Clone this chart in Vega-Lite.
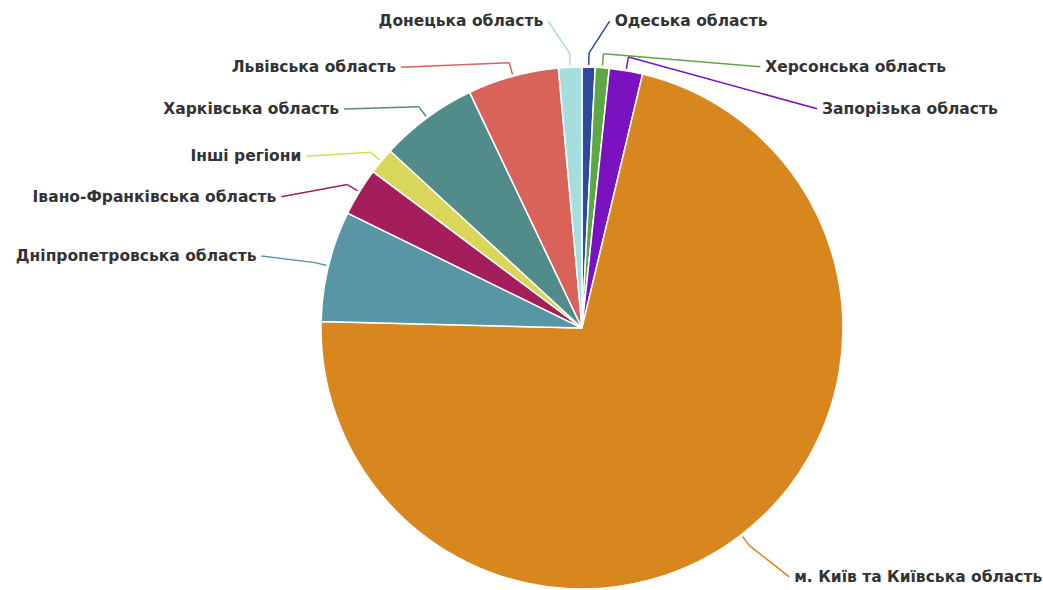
{
  "$schema": "https://vega.github.io/schema/vega-lite/v6.json",
  "width": 922,
  "height": 524,
  "autosize": {"type": "none"},
  "padding": {"left": 121, "top": 66, "right": 0, "bottom": 0},
  "background": "white",
  "config": {"view": {"stroke": null}},
  "data": {
    "values": [
      {"region": "Одеська область", "share": 0.81},
      {"region": "Херсонська область", "share": 0.86},
      {"region": "Запорізька область", "share": 2.06},
      {"region": "м. Київ та Київська область", "share": 71.66},
      {"region": "Дніпропетровська область", "share": 6.86},
      {"region": "Івано-Франківська область", "share": 2.97},
      {"region": "Інші регіони", "share": 1.64},
      {"region": "Харківська область", "share": 6.06},
      {"region": "Львівська область", "share": 5.64},
      {"region": "Донецька область", "share": 1.44}
    ]
  },
  "transform": [{"window": [{"op": "row_number", "as": "idx"}]}],
  "layer": [
    {
      "mark": {"type": "arc", "radius": 261, "stroke": "white", "strokeWidth": 1.5},
      "encoding": {
        "theta": {"field": "share", "type": "quantitative", "stack": true, "scale": {"domain": [0, 100]}},
        "order": {"field": "idx", "type": "quantitative"},
        "color": {
          "field": "region", "type": "nominal", "legend": null,
          "scale": {
            "domain": ["Одеська область", "Херсонська область", "Запорізька область", "м. Київ та Київська область", "Дніпропетровська область", "Івано-Франківська область", "Інші регіони", "Харківська область", "Львівська область", "Донецька область"],
            "range": ["#2c4b9e", "#5da845", "#7a12c0", "#d8861e", "#5896a6", "#a31e5b", "#d9d75a", "#528c8a", "#d9635b", "#a5dedc"]
          }
        }
      }
    },
    {
      "transform": [{"stack": "share", "groupby": [], "sort": [{"field": "idx", "order": "ascending"}], "as": ["s0", "s1"]}],
      "mark": {"type": "rule", "strokeWidth": 1.5},
      "encoding": {
        "x": {"value": {"expr": "width / 2 + 263 * sin((datum.s0 + datum.s1) * PI / 100)"}},
        "y": {"value": {"expr": "height / 2 - 263 * cos((datum.s0 + datum.s1) * PI / 100)"}},
        "x2": {"value": {"expr": "width / 2 + 275 * sin((datum.s0 + datum.s1) * PI / 100)"}},
        "y2": {"value": {"expr": "height / 2 - 275 * cos((datum.s0 + datum.s1) * PI / 100)"}},
        "color": {"field": "region", "type": "nominal", "legend": null}
      }
    },
    {
      "transform": [{"stack": "share", "groupby": [], "sort": [{"field": "idx", "order": "ascending"}], "as": ["s0", "s1"]}],
      "mark": {"type": "rule", "strokeWidth": 1.5},
      "encoding": {
        "x": {"value": {"expr": "width / 2 + 275 * sin((datum.s0 + datum.s1) * PI / 100)"}},
        "y": {"value": {"expr": "height / 2 - 275 * cos((datum.s0 + datum.s1) * PI / 100)"}},
        "x2": {"value": {"expr": "width / 2 + 261 * sin((datum.s0 + datum.s1) * PI / 100) + [26, 163, 196, 53, -72, -83, -80, -88, -117, -27][datum.idx - 1] + (datum.idx <= 4 ? -5 : 5)"}},
        "y2": {"value": {"expr": "height / 2 - 261 * cos((datum.s0 + datum.s1) * PI / 100) + [-46, -1, 38, 42, -10, 5, -5, -9, -9, -46][datum.idx - 1]"}},
        "color": {"field": "region", "type": "nominal", "legend": null}
      }
    },
    {
      "mark": {
        "type": "text", "radius": 261, "baseline": "middle",
        "align": {"expr": "datum.idx <= 4 ? 'left' : 'right'"},
        "dx": {"expr": "[26, 163, 196, 53, -72, -83, -80, -88, -117, -27][datum.idx - 1]"},
        "dy": {"expr": "[-46, -1, 38, 42, -10, 5, -5, -9, -9, -46][datum.idx - 1]"},
        "font": "DejaVu Sans", "fontWeight": "bold", "fontSize": 15.5, "fill": "#333333"
      },
      "encoding": {
        "theta": {"field": "share", "type": "quantitative", "stack": true, "scale": {"domain": [0, 100]}},
        "order": {"field": "idx", "type": "quantitative"},
        "text": {"field": "region"}
      }
    }
  ]
}
